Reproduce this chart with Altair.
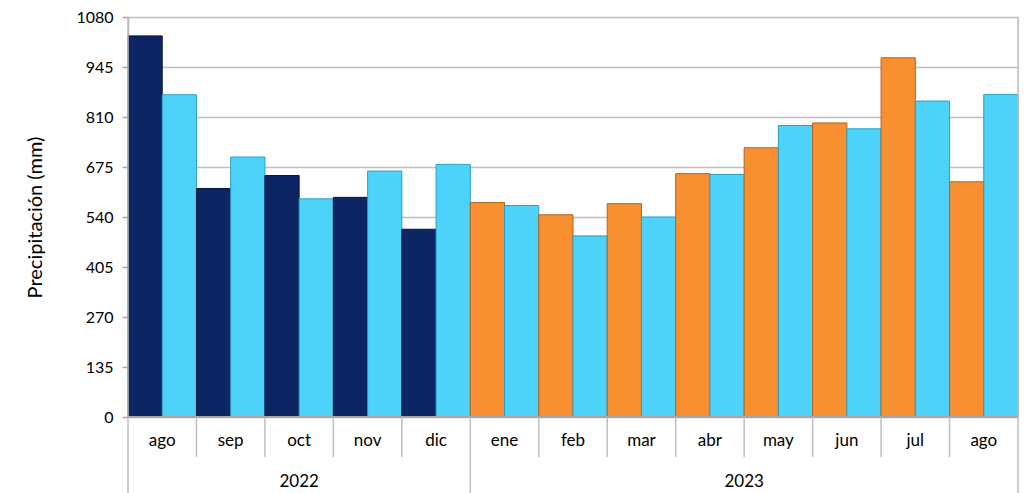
import altair as alt
import pandas as pd

# ---- data ----
months = ["ago", "sep", "oct", "nov", "dic", "ene", "feb", "mar", "abr", "may", "jun", "jul", "ago"]
years = ["2022", "2022", "2022", "2022", "2022", "2023", "2023", "2023", "2023", "2023", "2023", "2023", "2023"]
observed = [1029, 617, 652, 593, 507, 579, 546, 576, 657, 727, 794, 970, 635]
normal = [870, 702, 589, 664, 682, 571, 489, 540, 655, 787, 778, 853, 871]
y_ticks = [0, 135, 270, 405, 540, 675, 810, 945, 1080]

FONT = "Lato"
GRID = "#bfbfbf"

W, H = 890, 400

df = pd.DataFrame({
    "idx": list(range(len(months))),
    "mes": months,
    "anio": years,
    "obs": observed,
    "norm": normal,
})

# boundaries between month cells: 'edge' = outer border, 'year' = year change, 'month' = plain
bounds = []
for i in range(len(months) + 1):
    if i == 0 or i == len(months):
        kind = "edge"
    elif years[i] != years[i - 1]:
        kind = "year"
    else:
        kind = "month"
    bounds.append({"b": i, "kind": kind})
bdf = pd.DataFrame(bounds)

xscale = alt.Scale(domain=[0, len(months)], range=[0, W], nice=False, zero=False)

bars = alt.Chart(df).transform_fold(
    ["obs", "norm"], as_=["serie", "valor"]
).transform_calculate(
    x0="datum.idx + (datum.serie == 'norm' ? 0.5 : 0)",
    x1="datum.idx + (datum.serie == 'norm' ? 1 : 0.5)",
    base="0",
    grupo="datum.serie == 'norm' ? 'norm' : datum.anio",
).mark_bar(strokeWidth=1, clip=False).encode(
    x=alt.X("x0:Q", scale=xscale, axis=None),
    x2="x1:Q",
    y=alt.Y(
        "valor:Q",
        scale=alt.Scale(domain=[0, 1080], nice=False),
        axis=alt.Axis(
            values=y_ticks,
            format="d",
            title="Precipitación (mm)",
            titleFont=FONT,
            titleFontSize=20,
            titleFontWeight="normal",
            titleColor="#000000",
            titleX=-93,
            titleY=H / 2,
            titleAngle=270,
            titleAlign="center",
            titleBaseline="middle",
            labelFont=FONT,
            labelFontSize=16,
            labelColor="#000000",
            labelPadding=9,
            tickSize=6,
            tickColor="#a6a6a6",
            tickWidth=1.5,
            domainColor="#a6a6a6",
            domainWidth=1.5,
            grid=True,
            gridColor=GRID,
            gridWidth=1.5,
        ),
    ),
    y2="base:Q",
    color=alt.Color(
        "grupo:N",
        scale=alt.Scale(domain=["2022", "2023", "norm"], range=["#0d2663", "#f88f31", "#4dd3f9"]),
        legend=None,
    ),
    stroke=alt.Stroke(
        "grupo:N",
        scale=alt.Scale(domain=["2022", "2023", "norm"], range=["#06163d", "#b5621c", "#2a9fc4"]),
        legend=None,
    ),
)

edge_rules = alt.Chart(bdf).transform_filter("datum.kind == 'edge'").mark_rule(
    color=GRID, strokeWidth=1.5, clip=False
).encode(
    x=alt.X("b:Q", scale=xscale, axis=None),
    y=alt.value(0),
    y2=alt.value(H + 80),
)

year_rules = alt.Chart(bdf).transform_filter("datum.kind == 'year'").mark_rule(
    color=GRID, strokeWidth=1.5, clip=False
).encode(
    x=alt.X("b:Q", scale=xscale, axis=None),
    y=alt.value(H),
    y2=alt.value(H + 80),
)

month_rules = alt.Chart(bdf).transform_filter("datum.kind == 'month'").mark_rule(
    color=GRID, strokeWidth=1.5, clip=False
).encode(
    x=alt.X("b:Q", scale=xscale, axis=None),
    y=alt.value(H),
    y2=alt.value(H + 40),
)

bottom_line = alt.Chart(bdf).mark_rule(color="#a6a6a6", strokeWidth=1.5).encode(
    x=alt.value(0), x2=alt.value(W), y=alt.value(H)
)

month_labels = alt.Chart(df).transform_calculate(
    xc="datum.idx + 0.5"
).mark_text(font=FONT, fontSize=17, color="#000000", baseline="middle", clip=False).encode(
    x=alt.X("xc:Q", scale=xscale, axis=None),
    y=alt.value(H + 24),
    text="mes:N",
)

year_labels = alt.Chart(df).transform_aggregate(
    lo="min(idx)", hi="max(idx)", groupby=["anio"]
).transform_calculate(
    xc="(datum.lo + datum.hi + 1) / 2"
).mark_text(font=FONT, fontSize=17, color="#000000", baseline="middle", clip=False).encode(
    x=alt.X("xc:Q", scale=xscale, axis=None),
    y=alt.value(H + 65),
    text="anio:N",
)

chart = alt.layer(
    bars, bottom_line, edge_rules, year_rules, month_rules, month_labels, year_labels
).properties(
    width=W,
    height=H,
    autosize=alt.AutoSizeParams(type="none"),
    padding={"left": 120, "top": 9, "right": 6, "bottom": 78},
).configure_view(stroke=None).configure(background="#ffffff")

chart.save("out.html", embed_options={"renderer": "svg", "actions": False})
